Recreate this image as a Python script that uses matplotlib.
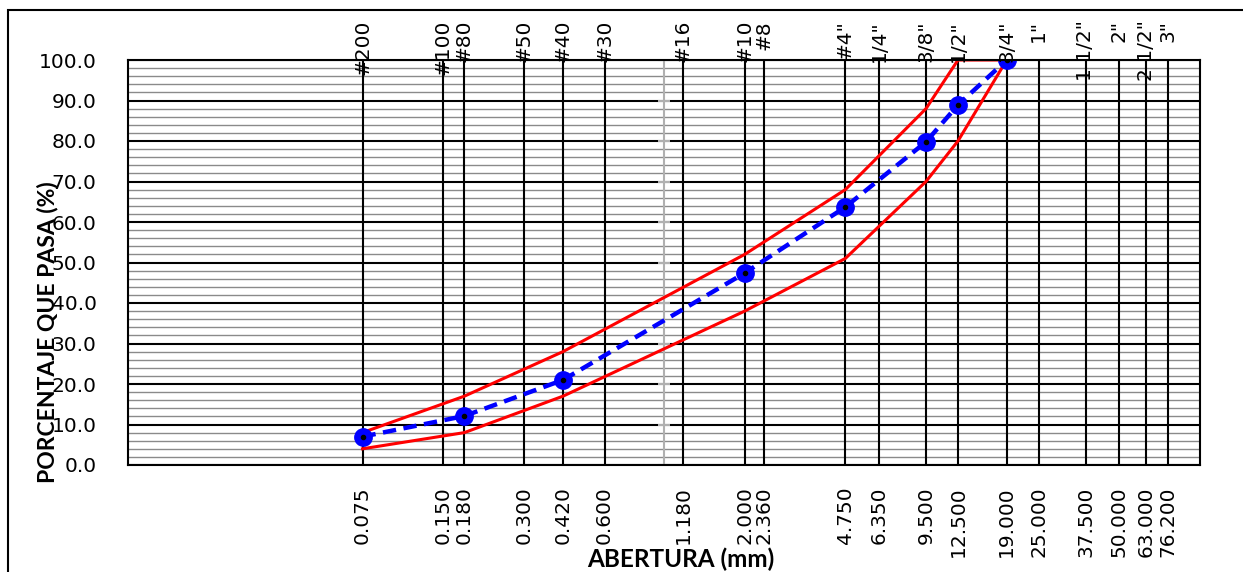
import matplotlib.pyplot as plt
from matplotlib.patches import Rectangle

# tamices
abertura = [0.075, 0.150, 0.180, 0.300, 0.420, 0.600, 1.180, 2.000, 2.360, 4.750,
            6.350, 9.500, 12.500, 19.000, 25.000, 37.500, 50.000, 63.000, 76.200]
abertura_txt = ['0.075', '0.150', '0.180', '0.300', '0.420', '0.600', '1.180', '2.000', '2.360', '4.750',
                '6.350', '9.500', '12.500', '19.000', '25.000', '37.500', '50.000', '63.000', '76.200']
tamiz = ['#200', '#100', '#80', '#50', '#40', '#30', '#16', '#10', '#8', '#4"',
         '1/4"', '3/8"', '1/2"', '3/4"', '1"', '1 1/2"', '2"', '2 1/2"', '3"']

# curva granulometrica
x_muestra = [0.075, 0.180, 0.420, 2.000, 4.750, 9.500, 12.500, 19.000]
pasa = [7.0, 12.1, 21.0, 47.4, 63.7, 79.8, 88.9, 100.0]

# limites del huso
x_huso = [0.075, 0.180, 0.420, 2.000, 4.750, 9.500, 12.500, 19.000]
lim_sup = [8, 17, 28, 52, 68, 88, 100, 100]
lim_inf = [4, 8, 17, 38, 51, 70, 80, 100]

plt.rc('font', family='DejaVu Sans', size=14.5)

fig = plt.figure(figsize=(12.43, 5.72), dpi=100)
ax = fig.add_axes([128/1243, 1-465/572, (1200-128)/1243, (465-60)/572])

ax.set_xscale('log')
ax.set_xlim(0.01, 100)
ax.set_ylim(0, 100)

# cuadricula
for y in range(0, 101, 2):
    if y % 10 == 0:
        ax.axhline(y, color='black', lw=1.5, zorder=1)
    else:
        ax.axhline(y, color='#8a8a8a', lw=1, zorder=1)
for x in abertura:
    ax.axvline(x, color='black', lw=1.5, zorder=1)
ax.axvline(1, color='#b0b0b0', lw=1.5, zorder=1)
ax.plot([1] * 11, range(0, 101, 10), ls='none', marker='_', ms=9, mew=1.5, color='#b0b0b0', zorder=1)

ax.plot(x_huso, lim_sup, color='red', lw=2.2, zorder=3)
ax.plot(x_huso, lim_inf, color='red', lw=2.2, zorder=3)
ax.plot(x_muestra, pasa, color='blue', lw=3.2, dashes=(3, 1.7), marker='o', ms=12.5, zorder=4)
ax.plot(x_muestra, pasa, ls='none', marker='o', ms=3, color='black', zorder=5)

ax.set_xticks(abertura)
ax.set_xticklabels(abertura_txt, rotation=90)
ax.xaxis.set_minor_locator(plt.NullLocator())
ax.set_yticks(range(0, 101, 10))
ax.set_yticklabels(['%.1f' % v for v in range(0, 101, 10)])
ax.tick_params(axis='x', length=0, pad=15.5)
ax.tick_params(axis='y', length=0, pad=22.5)

for s in ax.spines.values():
    s.set_linewidth(1.5)
    s.set_zorder(6)

for x, t in zip(abertura, tamiz):
    ax.text(x, (465-20)/405, t, rotation=90, ha='center', va='top', transform=ax.get_xaxis_transform(),
            clip_on=False, zorder=7)

fig.text(681/1243, 1-559/572, 'ABERTURA (mm)', family='Lato', weight='bold', size=17.5, ha='center', va='center')
fig.text(47/1243, 1-332/572, 'PORCENTAJE QUE PASA (%)', family='Lato', weight='bold', size=16.5,
         rotation=90, ha='center', va='center')

fig.patches.append(Rectangle((8/1243, -0.1), 1.2, 1.1-10/572, transform=fig.transFigure,
                             fill=False, lw=1.5, color='black'))

plt.savefig('out.png')
